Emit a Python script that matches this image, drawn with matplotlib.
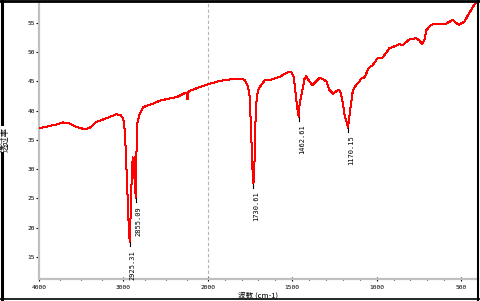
import matplotlib
matplotlib.use("Agg")
import matplotlib.pyplot as plt
import numpy as np
from matplotlib.lines import Line2D
from matplotlib.ticker import FixedLocator

# IR spectrum (wavenumber cm-1, transmittance %)
wavenumber = [4000, 3900, 3800, 3720, 3640, 3550, 3456, 3396, 3317, 3199,
              3080, 3033, 3002, 2982, 2965, 2950, 2938, 2925, 2912, 2902,
              2890, 2880, 2870, 2862, 2855, 2845, 2835, 2813, 2766, 2650,
              2568, 2450, 2370, 2272, 2250, 2245, 2240, 2235, 2213, 2100,
              2000, 1929, 1830, 1781, 1762, 1752, 1742, 1735, 1730, 1724,
              1718, 1712, 1706, 1699, 1663, 1624, 1574, 1525, 1505, 1492,
              1482, 1472, 1462, 1456, 1440, 1427, 1417, 1401, 1381, 1358,
              1338, 1319, 1298, 1279, 1259, 1230, 1216, 1204, 1190, 1170,
              1157, 1141, 1121, 1102, 1092, 1072, 1047, 1023, 994, 964,
              924, 885, 865, 846, 806, 767, 747, 731, 717, 707,
              678, 648, 589, 550, 515, 481, 452, 422, 406]
transmittance = [37.0, 37.3, 37.6, 38.0, 37.8, 37.2, 36.8, 37.1, 38.1, 38.7,
                 39.4, 39.2, 38.7, 36.4, 30.5, 25.0, 20.5, 17.5, 23.5, 28.5,
                 32.0, 28.5, 32.0, 28.0, 25.0, 33.0, 37.8, 39.3, 40.6, 41.2,
                 41.7, 42.1, 42.3, 43.0, 43.1, 42.0, 42.0, 43.1, 43.4, 44.0,
                 44.5, 45.1, 45.5, 45.3, 44.1, 42.4, 35.0, 29.5, 27.5, 31.0,
                 38.0, 41.5, 43.0, 43.8, 45.2, 45.3, 45.8, 46.6, 46.6, 45.8,
                 43.5, 40.7, 38.9, 41.3, 43.5, 45.5, 45.9, 45.1, 44.4, 45.0,
                 45.6, 45.4, 45.0, 43.5, 42.9, 43.5, 43.4, 41.8, 39.3, 37.1,
                 40.1, 43.5, 44.4, 45.0, 45.5, 45.7, 47.3, 47.8, 49.0, 49.1,
                 50.7, 51.1, 51.4, 51.2, 52.2, 52.4, 52.0, 51.4, 52.1, 53.7,
                 54.7, 54.8, 54.9, 55.5, 54.7, 55.2, 56.7, 58.1, 58.8]

peak_pos = [2925, 2855, 1730, 1462, 1170]
peak_val = [17.5, 25.0, 27.5, 38.9, 37.1]
peak_labels = ["2925.31", "2855.09", "1730.61", "1462.61", "1170.15"]

xticks = [4000, 3000, 2000, 1500, 1000, 500]
yticks = [15, 20, 25, 30, 35, 40, 45, 50, 55]


def fwd(x):
    x = np.asarray(x, dtype=float)
    return np.where(x <= 2000, x, 2000 + (x - 2000) / 2)


def inv(u):
    u = np.asarray(u, dtype=float)
    return np.where(u <= 2000, u, 2000 + (u - 2000) * 2)


fig = plt.figure(figsize=(4.81, 3.01), dpi=100)
ax = fig.add_axes([39 / 481, 22 / 301, 439 / 481, 276.5 / 301])
ax.set_xscale("function", functions=(fwd, inv))
ax.set_xlim(4000, 400)
ax.set_ylim(11.2, 58.5)

ax.plot(wavenumber, transmittance, color="#ff0000", lw=0.72, antialiased=False, zorder=3)
ax.axvline(2000, color="#b4b4b4", lw=0.8, dashes=(3, 2), zorder=1)

for w, v, lab in zip(peak_pos, peak_val, peak_labels):
    ax.plot([w, w], [v, v - 0.7], color="black", lw=0.8, zorder=4)
    ax.text(w, v - 1.3, lab, rotation=90, ha="left", va="top",
            fontsize=5, family="DejaVu Sans Mono")

for s in ["top", "right"]:
    ax.spines[s].set_visible(False)
for s in ["left", "bottom"]:
    ax.spines[s].set_color("#c0c0c0")
    ax.spines[s].set_linewidth(1.6)

ax.xaxis.set_major_locator(FixedLocator(xticks))
ax.set_xticklabels([str(t) for t in xticks])
minor_x = [3750, 3500, 3250, 2750, 2500, 2250] + [m for m in range(1900, 500, -100) if m % 500]
ax.xaxis.set_minor_locator(FixedLocator(minor_x))
ax.set_yticks(yticks)
ax.set_yticklabels([str(t) for t in yticks])
ax.tick_params(axis="x", which="major", direction="inout", length=3, width=0.8,
               labelsize=4.5, pad=2.5)
ax.tick_params(axis="x", which="minor", direction="inout", length=2, width=0.8)
ax.tick_params(axis="y", which="major", direction="out", length=2, width=0.8,
               labelsize=4.5, pad=1)
for lab in ax.get_xticklabels() + ax.get_yticklabels():
    lab.set_family("DejaVu Sans Mono")

fig.text(258 / 481, 1 - 295.5 / 301, "波数 (cm-1)", ha="center", va="center",
         fontsize=5.5, family=["Noto Sans CJK SC", "DejaVu Sans"])
fig.text(5 / 481, 1 - 139 / 301, "透过率", ha="center", va="center", rotation=90,
         fontsize=6, family=["Noto Sans CJK SC", "DejaVu Sans"],
         bbox=dict(facecolor="white", edgecolor="none", pad=0), zorder=5)

# black frame around the whole picture
fig.add_artist(Line2D([1.5 / 481, 1.5 / 481], [0, 1], color="black", lw=2.2,
                      transform=fig.transFigure, zorder=4))
fig.add_artist(Line2D([0, 1], [1 - 1.3 / 301, 1 - 1.3 / 301], color="black", lw=2.0,
                      transform=fig.transFigure))
fig.add_artist(Line2D([478.3 / 481, 478.3 / 481], [0, 1], color="black", lw=1.5,
                      transform=fig.transFigure))
fig.add_artist(Line2D([0, 1], [1 - 299 / 301, 1 - 299 / 301], color="black", lw=1.2,
                      transform=fig.transFigure))

fig.savefig("out.png", dpi=100)
